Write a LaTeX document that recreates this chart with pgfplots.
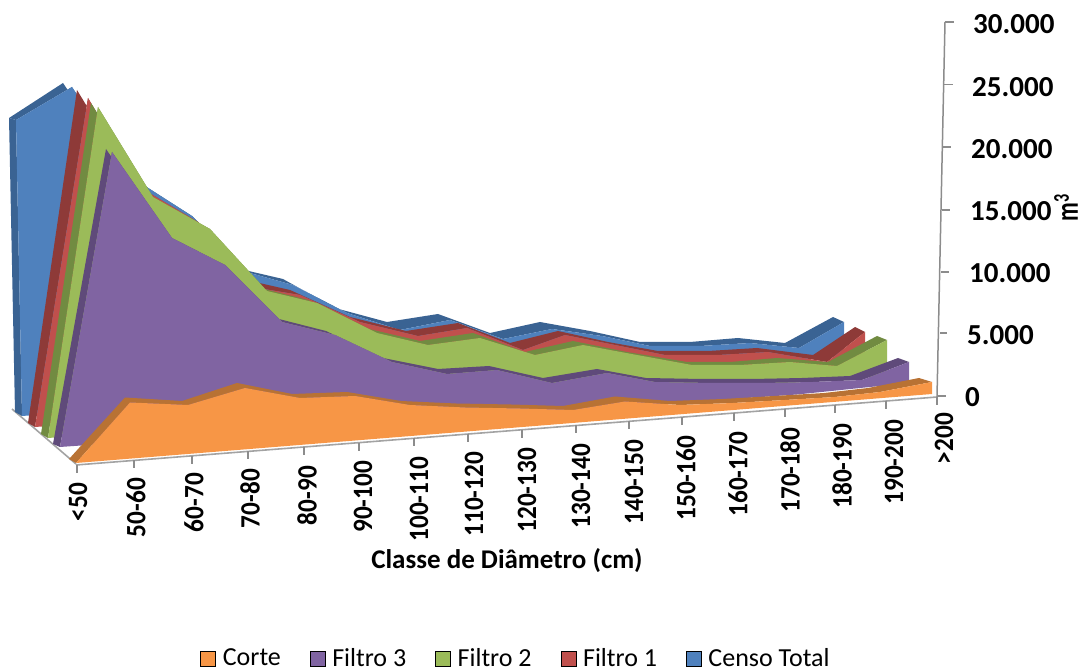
\documentclass[border=0pt]{standalone}
\usepackage{pgfplots}
\pgfplotsset{compat=1.18}
\usepackage{fontspec}
\setmainfont{Carlito}
\definecolor{cor}{HTML}{F79646}\definecolor{cord}{HTML}{B87234}
\definecolor{pur}{HTML}{8064A2}\definecolor{purd}{HTML}{5F4A7A}
\definecolor{gre}{HTML}{9BBB59}\definecolor{gred}{HTML}{718B41}
\definecolor{red1}{HTML}{C0504D}\definecolor{redd}{HTML}{8E3A38}
\definecolor{blu}{HTML}{4F81BD}\definecolor{blud}{HTML}{3A6393}
\definecolor{axg}{HTML}{8C8C8C}
\newcommand{\xl}[3]{\node[rotate=90,anchor=east,inner sep=0pt,font=\fontsize{28}{30}\selectfont\bfseries] at (axis cs:#1,#2) {\scalebox{0.9}[1]{#3}};}
\newcommand{\yl}[3]{\node[anchor=west,inner sep=0pt,font=\fontsize{29}{31}\selectfont\bfseries] at (axis cs:#1,#2) {#3};}
\begin{document}
\begin{tikzpicture}
\begin{axis}[
  scale only axis, width=1080pt, height=669pt,
  xmin=0, xmax=1080, ymin=0, ymax=669, y dir=reverse,
  hide axis, clip=false,
  legend image code/.code={\fill[#1] (0pt,-7.5pt) rectangle (15pt,7.5pt);},
  legend style={at={(0.4778,0.016)},anchor=center,draw=none,fill=none,
    legend columns=-1,font=\fontsize{26}{28}\selectfont,inner sep=0pt,
    /tikz/every odd column/.append style={column sep=5pt},
    /tikz/every even column/.append style={column sep=27pt}},
]
\addlegendimage{fill=cor}
\addlegendimage{fill=pur}
\addlegendimage{fill=gre}
\addlegendimage{fill=red1}
\addlegendimage{fill=blu}

\path (axis cs:0,0) (axis cs:1080,669);

% floor
\addplot[draw=axg!80,line width=1.6pt,forget plot] coordinates {(12,409)(76,464)};

% Censo Total
\addplot[fill=blud,draw=none,forget plot] coordinates {(22,416)(16,120)(9,118)(15,412)} -- cycle;
\addplot[fill=blud,draw=none,forget plot] coordinates {
(16,120)(72,87)(131,177)(192,216)(250,273)(293,285)(347,313)(400,330)(450,320)(503,339)(552,329)(602,336)(650,346)(700,346)(750,343)(799,348)(844,322)
(833,317)(785,343)(738,338)(690,342)(640,342)(590,331)(540,322)(490,333)(438,314)(387,322)(335,308)(283,279)(240,269)(185,212)(124,173)(63,83)(9,118)} -- cycle;
\addplot[fill=blu,draw=none,forget plot] coordinates {
(16,120)(72,87)(131,177)(192,216)(250,273)(293,285)(347,313)(400,330)(450,320)(503,339)(552,329)(602,336)(650,346)(700,346)(750,343)(799,348)(844,322)
(844,356)(22,416)} -- cycle;

% Filtro 1
\addplot[fill=redd,draw=none,forget plot] coordinates {
(35,427)(88,98)(141,188)(198,222)(264,289)(300,295)(360,322)(418,336)(467,328)(523,350)(565,335)(615,345)(665,355)(718,355)(768,352)(827,362)(865,332)
(855,327)(813,355)(757,348)(708,351)(658,351)(608,342)(558,331)(510,343)(458,323)(406,331)(350,317)(290,290)(255,282)(191,218)(134,184)(77,90)(28,423)} -- cycle;
\addplot[fill=red1,draw=none,forget plot] coordinates {
(35,427)(88,98)(141,188)(198,222)(264,289)(300,295)(360,322)(418,336)(467,328)(523,350)(565,335)(615,345)(665,355)(718,355)(768,352)(827,362)(865,332)
(865,368)} -- cycle;

% Filtro 2
\addplot[fill=gred,draw=none,forget plot] coordinates {
(48,438)(98,107)(153,197)(210,229)(267,291)(317,303)(377,333)(428,345)(480,338)(535,355)(583,345)(637,355)(692,365)(740,365)(790,362)(837,366)(887,340)
(877,336)(828,362)(777,358)(730,362)(687,362)(627,352)(573,341)(525,352)(473,333)(420,341)(369,329)(308,300)(260,288)(203,226)(147,194)(91,103)(41,434)} -- cycle;
\addplot[fill=gre,draw=none,forget plot] coordinates {
(48,438)(98,107)(153,197)(210,229)(267,291)(317,303)(377,333)(428,345)(480,338)(535,355)(583,345)(637,355)(692,365)(740,365)(790,362)(837,366)(887,340)
(887,376)} -- cycle;

% Filtro 3
\addplot[fill=purd,draw=none,forget plot] coordinates {
(60,447)(112,152)(172,238)(225,265)(282,322)(335,335)(392,362)(447,374)(497,370)(552,383)(607,373)(655,382)(712,383)(763,383)(813,382)(862,380)(909,362)
(898,358)(850,376)(802,378)(752,379)(702,379)(646,378)(597,369)(543,378)(489,366)(438,369)(383,358)(326,331)(275,318)(218,262)(165,235)(106,149)(53,444)} -- cycle;
\addplot[fill=pur,draw=none,forget plot] coordinates {
(60,447)(112,152)(172,238)(225,265)(282,322)(335,335)(392,362)(447,374)(497,370)(552,383)(607,373)(655,382)(712,383)(763,383)(813,382)(862,380)(909,362)
(909,383)(797,394.5)(740,398.5)} -- cycle;

% Corte
\addplot[fill=cord,draw=none,forget plot] coordinates {
(76,463)(130,402.5)(188,405)(245,388)(300,398)(355,396)(410,405)(465,407.5)(520,408.5)(573,410)(625,401.5)(680,405)(733,403)(785,400)(835,397)(880,392)(932,382)
(919,378)(868,388)(824,393)(774,396)(723,399)(670,401)(615,396.5)(563,406)(511,404.5)(456,403.5)(401,401)(347,392)(292,394)(237,383)(182,401)(125,397.5)(69,459)} -- cycle;
\addplot[fill=cor,draw=none,forget plot] coordinates {
(76,463)(130,402.5)(188,405)(245,388)(300,398)(355,396)(410,405)(465,407.5)(520,408.5)(573,410)(625,401.5)(680,405)(733,403)(785,400)(835,397)(880,392)(932,382)
(932,394)} -- cycle;

% x axis line and ticks
\addplot[draw=axg!80,line width=1.6pt,forget plot] coordinates {(76,465)(937,397)};
\foreach \a/\b in {77/465,134/460.5,192/456,248/451.5,304/447,359/442.7,414/438.4,468/434,522/430,576/425.5,629/421,682/417,734/413,785/409,835/405,886/401,937/397}{
  \edef\t{\noexpand\addplot[draw=axg,line width=1.2pt,forget plot] coordinates {(\a,\b)(\a,\b+8)};}\t
}

% y axis line and ticks
\addplot[draw=axg,line width=1.5pt,forget plot] coordinates {(945,22)(937,397)};
\foreach \a/\b/\c in {945/22/954,944/84.5/953,943/147/951,942/210/950,941/272/949,940/333/947,937/396/946}{
  \edef\t{\noexpand\addplot[draw=axg,line width=1.2pt,forget plot] coordinates {(\a,\b)(\c,\b)};}\t
}

% y labels
\yl{973}{24}{30.000}
\yl{972}{87}{25.000}
\yl{971}{149}{20.000}
\yl{970}{211}{15.000}
\yl{969}{273}{10.000}
\yl{967}{335}{5.000}
\yl{965}{397}{0}

% x labels
\xl{78}{483}{<50}
\xl{136}{478}{50-60}
\xl{194}{473}{60-70}
\xl{250}{469}{70-80}
\xl{307}{466}{80-90}
\xl{363}{461}{90-100}
\xl{419}{457}{100-110}
\xl{474}{452}{110-120}
\xl{527}{448}{120-130}
\xl{581}{444}{130-140}
\xl{634}{440}{140-150}
\xl{686}{436}{150-160}
\xl{738}{432}{160-170}
\xl{790}{428}{170-180}
\xl{842}{424}{180-190}
\xl{894}{420}{190-200}
\xl{944}{413}{>200}

\node[font=\fontsize{27}{29}\selectfont\bfseries,inner sep=0pt] at (axis cs:507,561) {Classe de Diâmetro (cm)};
\node[rotate=90,font=\fontsize{32}{34}\selectfont\bfseries,inner sep=0pt] at (axis cs:1066,208) {\scalebox{0.72}[1]{m\textsuperscript{3}}};

\legend{Corte,Filtro 3,Filtro 2,Filtro 1,Censo Total}
\end{axis}
\end{tikzpicture}
\end{document}
